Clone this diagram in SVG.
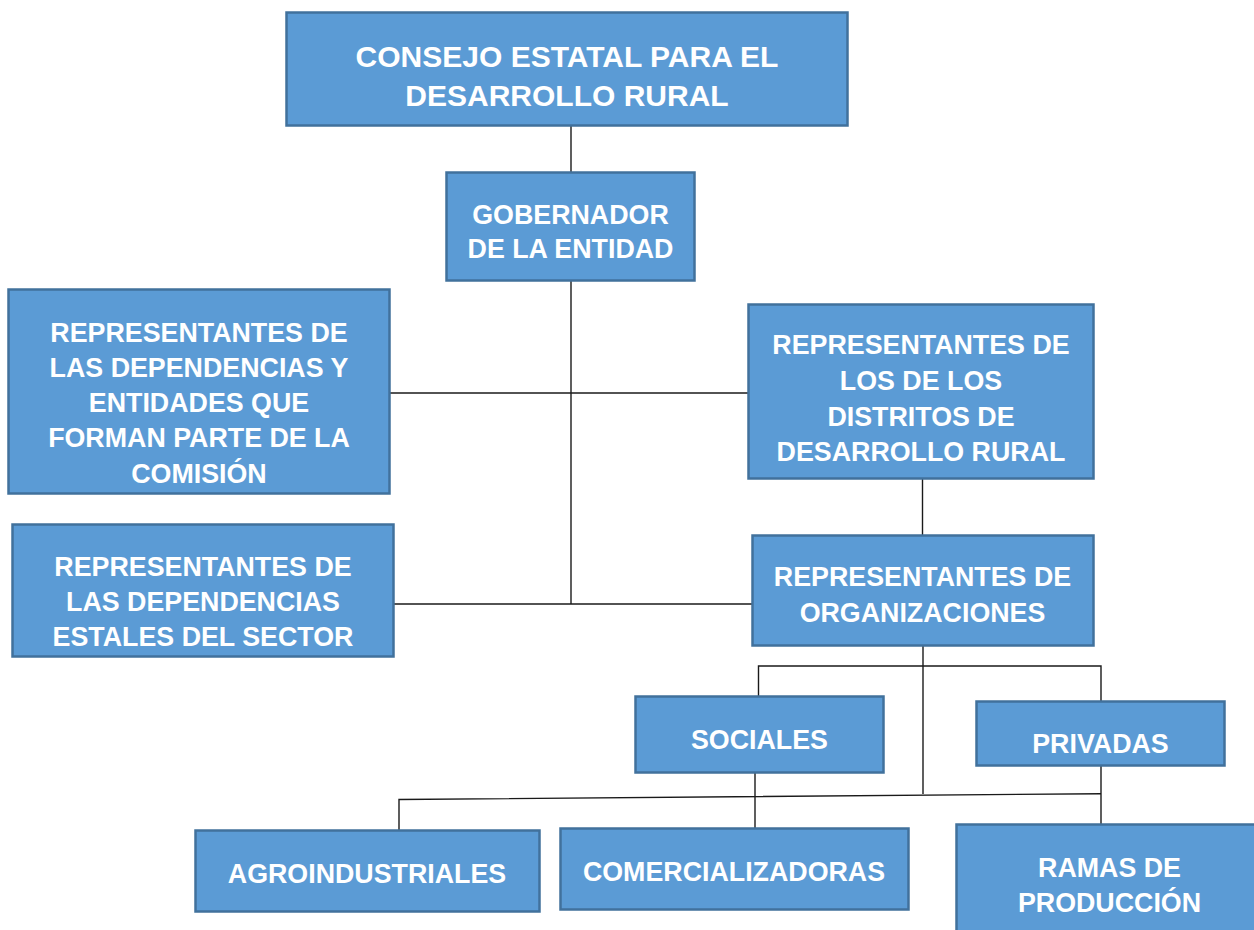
<svg xmlns="http://www.w3.org/2000/svg" width="1254" height="930" viewBox="0 0 1254 930">
<style>
.box{fill:#5B9BD5;stroke:#41719C;stroke-width:2.5}
.t{font-family:"Liberation Sans",Arial,sans-serif;font-weight:bold;font-size:26.8px;fill:#FFFFFF;text-anchor:middle}
.big{font-size:30px}
.ln{stroke:#1a1a1a;stroke-width:1.4;fill:none}
</style>
<rect width="1254" height="930" fill="#FFFFFF"/>
<g id="connectors">
<line class="ln" x1="571" y1="125" x2="571" y2="172"/>
<line class="ln" x1="571" y1="281" x2="571" y2="604"/>
<line class="ln" x1="389" y1="393" x2="748" y2="393"/>
<line class="ln" x1="393" y1="604" x2="752" y2="604"/>
<line class="ln" x1="922.5" y1="478" x2="922.5" y2="535"/>
<line class="ln" x1="923" y1="646" x2="923" y2="794"/>
<polyline class="ln" points="758.5,696 758.5,666 1101,666 1101,701"/>
<line class="ln" x1="755" y1="773" x2="755" y2="828"/>
<polyline class="ln" points="399,830 399,799.5 1101,793.7"/>
<line class="ln" x1="1101" y1="765" x2="1101" y2="824"/>
</g>
<g id="consejo">
<rect class="box" x="286.5" y="12.5" width="561" height="113"/>
<text class="t big" x="567" y="67">CONSEJO ESTATAL PARA EL</text>
<text class="t big" x="567" y="106">DESARROLLO RURAL</text>
</g>
<g id="gobernador">
<rect class="box" x="446.5" y="172.5" width="248" height="108"/>
<text class="t" x="570.5" y="224">GOBERNADOR</text>
<text class="t" x="570.5" y="258">DE LA ENTIDAD</text>
</g>
<g id="rep-dependencias-entidades">
<rect class="box" x="8.5" y="289.5" width="381" height="204"/>
<text class="t" x="199" y="342">REPRESENTANTES DE</text>
<text class="t" x="199" y="377">LAS DEPENDENCIAS Y</text>
<text class="t" x="199" y="412">ENTIDADES QUE</text>
<text class="t" x="199" y="447">FORMAN PARTE DE LA</text>
<text class="t" x="199" y="483">COMISIÓN</text>
</g>
<g id="rep-dependencias-estales">
<rect class="box" x="12.5" y="524.5" width="381" height="132"/>
<text class="t" x="203" y="576">REPRESENTANTES DE</text>
<text class="t" x="203" y="611">LAS DEPENDENCIAS</text>
<text class="t" x="203" y="646">ESTALES DEL SECTOR</text>
</g>
<g id="rep-distritos">
<rect class="box" x="748.5" y="304.5" width="345" height="174"/>
<text class="t" x="921" y="354">REPRESENTANTES DE</text>
<text class="t" x="921" y="390">LOS DE LOS</text>
<text class="t" x="921" y="426">DISTRITOS DE</text>
<text class="t" x="921" y="461">DESARROLLO RURAL</text>
</g>
<g id="rep-organizaciones">
<rect class="box" x="752.5" y="535.5" width="341" height="110"/>
<text class="t" x="922.5" y="586">REPRESENTANTES DE</text>
<text class="t" x="922.5" y="622">ORGANIZACIONES</text>
</g>
<g id="sociales">
<rect class="box" x="635.5" y="696.5" width="248" height="76"/>
<text class="t" x="759.5" y="749">SOCIALES</text>
</g>
<g id="privadas">
<rect class="box" x="976.5" y="701.5" width="248" height="64"/>
<text class="t" x="1100.5" y="753">PRIVADAS</text>
</g>
<g id="agroindustriales">
<rect class="box" x="195.5" y="830.5" width="344" height="81"/>
<text class="t" x="367" y="883">AGROINDUSTRIALES</text>
</g>
<g id="comercializadoras">
<rect class="box" x="560.5" y="828.5" width="348" height="81"/>
<text class="t" x="734" y="881">COMERCIALIZADORAS</text>
</g>
<g id="ramas">
<rect class="box" x="956.5" y="824.5" width="310" height="130"/>
<text class="t" x="1109.5" y="877">RAMAS DE</text>
<text class="t" x="1109.5" y="912">PRODUCCIÓN</text>
</g>
</svg>
